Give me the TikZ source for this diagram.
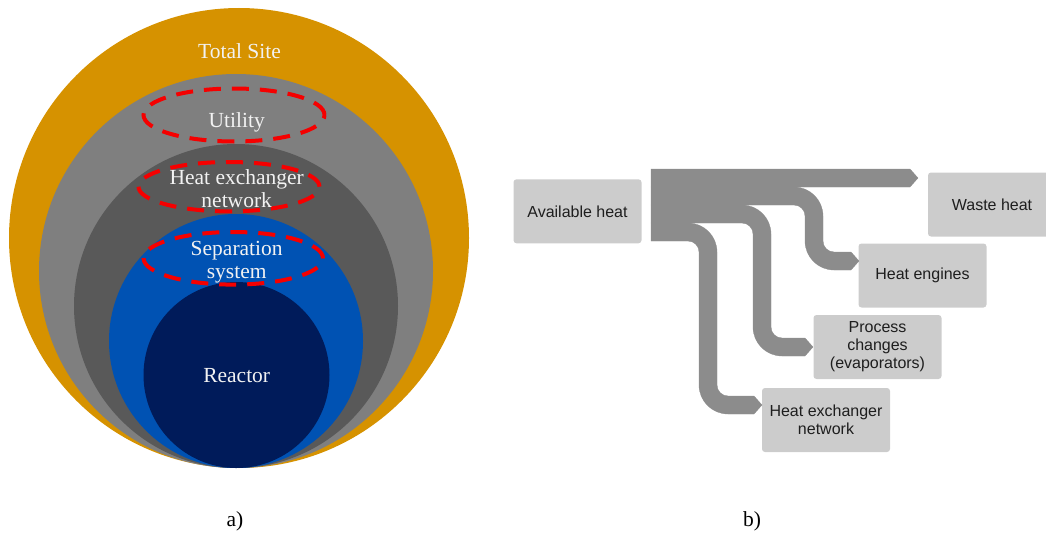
\documentclass[tikz,border=0pt]{standalone}
\usepackage{fontspec}
\setmainfont{Liberation Serif}
\newfontfamily\sansf{Liberation Sans}
\definecolor{siteorange}{RGB}{214,146,0}
\definecolor{utilgray}{RGB}{127,127,127}
\definecolor{hengray}{RGB}{89,89,89}
\definecolor{sepblue}{RGB}{0,82,179}
\definecolor{reacnavy}{RGB}{0,27,90}
\definecolor{dashred}{RGB}{245,0,0}
\definecolor{flowgray}{RGB}{140,140,140}
\definecolor{boxgray}{RGB}{204,204,204}
\definecolor{boxtext}{RGB}{30,30,30}
\begin{document}
\begin{tikzpicture}[x=1pt,y=-1pt,
  lbl/.style={text=white!95!black,font=\fontsize{21.5}{23}\selectfont,inner sep=0pt,align=center},
  captxt/.style={text=black,font=\fontsize{21.5}{23}\selectfont,inner sep=0pt,anchor=base},
  hot/.style={draw=dashred,line width=4pt,dash pattern=on 17pt off 11pt},
  hbox/.style={fill=boxgray,rounded corners=3pt,minimum width=128pt,minimum height=64pt,inner sep=0pt,align=center,font=\sansf\fontsize{16}{18}\selectfont,text=boxtext},
  band/.style={fill=flowgray,draw=flowgray,line width=0.3pt}]
\useasboundingbox (0,0) rectangle (1046,535);

% ---------- a) onion diagram ----------
\fill[siteorange] (239,238) circle[radius=230pt];
\fill[utilgray] (236,271) circle[radius=197pt];
\fill[hengray] (236,306) circle[radius=162pt];
\fill[sepblue] (236,341) circle[radius=127pt];
\fill[reacnavy] (236.5,375) circle[radius=93pt];

\draw[hot] (234,115) ellipse[x radius=90.5pt,y radius=26.5pt];
\draw[hot] (229,186.7) ellipse[x radius=90.5pt,y radius=24.7pt];
\draw[hot] (233.3,258.3) ellipse[x radius=89.7pt,y radius=26.3pt];

\node[lbl,anchor=base] (site) at (239.5,58.5) {Total Site};
\node[lbl,anchor=base] (util) at (236.7,127.7) {Utility};
\node[lbl] (hen) at (236.7,188.2) {Heat exchanger\\network};
\node[lbl] (sep) at (236.7,262.3) {Separation\\system};
\node[lbl,anchor=base] (reac) at (236.7,382) {Reactor};

\node[captxt] (capa) at (235,526.7) {a)};
\node[captxt] (capb) at (752,526.7) {b)};

% ---------- b) heat flow diagram ----------
\node[hbox] (avail) at (577.5,211.3) {Available heat};
\node[hbox] (waste) at (992,204.5) {Waste heat};
\node[hbox] (engines) at (922.5,275.5) {Heat engines};
\node[hbox] (process) at (877.5,347) {Process\\changes\\(evaporators)};
\node[hbox] (hex) at (826,420) {Heat exchanger\\network};

% trunk
\fill[flowgray] (651,169) rectangle (690,241);
% waste heat
\path[band] (651,169) -- (910,169) -- (918,178) -- (910,187) -- (651,187) -- cycle;
% heat engines
\path[band] (651,187) -- (794,187) .. controls (810,187) and (823,200) .. (823,216)
  -- (823,241) .. controls (823,247.1) and (827.9,252) .. (834,252)
  -- (851,252) -- (859,261) -- (851,270) -- (834,270)
  .. controls (818,270) and (805,257) .. (805,241)
  -- (805,216) .. controls (805,209.9) and (800.1,205) .. (794,205) -- (651,205) -- cycle;
% process changes
\path[band] (651,205) -- (742,205) .. controls (758,205) and (771,218) .. (771,234)
  -- (771,327) .. controls (771,333.1) and (775.9,338) .. (782,338)
  -- (805,338) -- (813,347) -- (805,356) -- (782,356)
  .. controls (766,356) and (753,343) .. (753,327)
  -- (753,234) .. controls (753,227.9) and (748.1,223) .. (742,223) -- (651,223) -- cycle;
% heat exchanger network
\path[band] (651,223) -- (688,223) .. controls (704,223) and (717,236) .. (717,252)
  -- (717,385) .. controls (717,391.1) and (721.9,396) .. (728,396)
  -- (754,396) -- (762,405) -- (754,414) -- (728,414)
  .. controls (712,414) and (699,401) .. (699,385)
  -- (699,252) .. controls (699,245.9) and (694.1,241) .. (688,241) -- (651,241) -- cycle;
\end{tikzpicture}
\end{document}
